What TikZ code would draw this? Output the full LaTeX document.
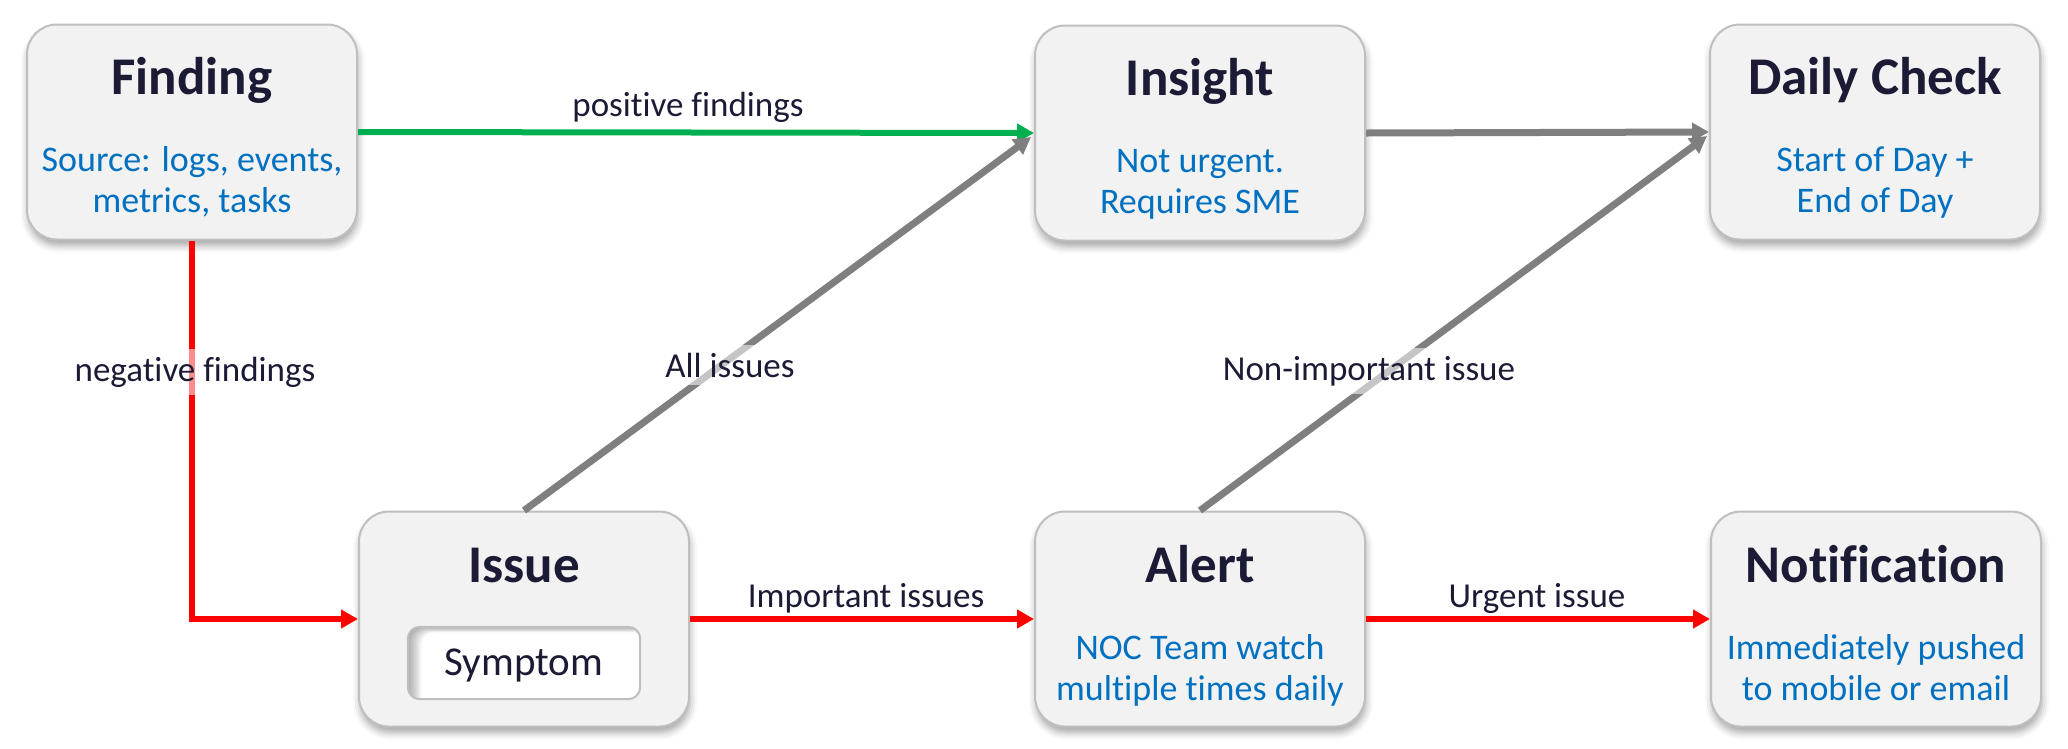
\documentclass[tikz,border=0pt]{standalone}
\usepackage{fontspec}
\setmainfont{Carlito}[Ligatures={NoCommon,NoRare,NoContextual}]
\usetikzlibrary{calc,arrows.meta,shadows.blur}
\definecolor{navy}{HTML}{1B1B36}
\definecolor{sub}{HTML}{0070C0}
\definecolor{boxfill}{HTML}{F2F2F2}
\definecolor{boxline}{HTML}{BFBFBF}
\definecolor{arrgreen}{HTML}{00B050}
\definecolor{arrred}{HTML}{FF0000}
\definecolor{arrgray}{HTML}{7F7F7F}
\tikzset{
  card/.style={rounded corners=30pt, minimum width=330pt, minimum height=215pt,
    fill=boxfill, draw=boxline, line width=2pt, inner sep=0pt,
    blur shadow={shadow xshift=1pt, shadow yshift=-6pt, shadow blur radius=7pt, shadow opacity=35}},
  ttl/.style={anchor=base, text=navy, font=\fontsize{53}{60}\selectfont\bfseries, inner sep=0pt},
  subt/.style={anchor=base, text=sub, font=\fontsize{36}{42}\selectfont, inner sep=0pt},
  lbl/.style={anchor=base, text=navy, font=\fontsize{35}{40}\selectfont, fill=white, fill opacity=0.55, text opacity=1, inner sep=8pt},
  plainlbl/.style={anchor=base, text=navy, font=\fontsize{35}{40}\selectfont, inner sep=0pt},
  tip/.style={-{Triangle[length=17pt,width=18pt]}},
  garr/.style={tip, draw=arrgreen, line width=6pt},
  rarr/.style={tip, draw=arrred, line width=6pt},
  gyarr/.style={tip, draw=arrgray, line width=7pt},
}
\begin{document}
\begin{tikzpicture}[x=1pt,y=-1pt]
\useasboundingbox (0,0) rectangle (2068,748);

% boxes
\node[card] (fin) at (192,132) {};
\node[card] (ins) at (1200,133) {};
\node[card] (dc)  at (1875,132) {};
\node[card] (iss) at (524,619) {};
\node[card] (alr) at (1200,619) {};
\node[card] (noti) at (1876,619) {};

% titles
\node[ttl] (fint) at ($(fin.north)+(0,71)$) {Finding};
\node[ttl] (inst) at ($(ins.north)+(0,71)$) {Insight};
\node[ttl] (dct)  at ($(dc.north)+(0,71)$) {Daily Check};
\node[ttl] (isst) at ($(iss.north)+(0,72)$) {Issue};
\node[ttl] (alrt) at ($(alr.north)+(0,72)$) {Alert};
\node[ttl] (notit) at ($(noti.north)+(0,72)$) {Notification};

% subtitles
\node[subt] (fins1) at ($(fin.north)+(0,148)$) {Source: logs, events,};
\node[subt] (fins2) at ($(fin.north)+(0,189)$) {metrics, tasks};
\node[subt] (inss1) at ($(ins.north)+(0,148)$) {Not urgent.};
\node[subt] (inss2) at ($(ins.north)+(0,189)$) {Requires SME};
\node[subt] (dcs1) at ($(dc.north)+(0,148)$) {Start of Day +};
\node[subt] (dcs2) at ($(dc.north)+(0,189)$) {End of Day};
\node[subt] (alrs1) at ($(alr.north)+(0,149)$) {NOC Team watch};
\node[subt] (alrs2) at ($(alr.north)+(0,190)$) {multiple times daily};
\node[subt] (notis1) at ($(noti.north)+(0,149)$) {Immediately pushed};
\node[subt] (notis2) at ($(noti.north)+(0,190)$) {to mobile or email};

% symptom inset box
\node[rounded corners=12pt, minimum width=232pt, minimum height=72pt, fill=white, inner sep=0pt] (sym) at (524,663) {};
\begin{scope}
  \clip[rounded corners=12pt] (sym.north west) rectangle (sym.south east);
  \foreach \k in {1,...,8}
    \fill[black, opacity=0.045, even odd rule]
      ($(sym.north west)+(-20,-20)$) rectangle ($(sym.south east)+(20,20)$)
      [rounded corners=12pt] ($(sym.north west)+(1.7*\k,0.7*\k)$) rectangle ($(sym.south east)+(30,30)$);
\end{scope}
\draw[rounded corners=12pt, draw=boxline, line width=2pt] (sym.north west) rectangle (sym.south east);
\node[anchor=base, text=navy, font=\fontsize{41}{48}\selectfont, inner sep=0pt] (symt) at (524,675) {Symptom};

% connectors
\coordinate (insin) at ($(ins.west)+(-3,4)$);
\coordinate (dcin) at ($(dc.west)+(-2,4)$);
\draw[garr] (fin.east) -- (ins.west);
\draw[gyarr] (ins.east) -- (dc.west);
\draw[gyarr] (iss.north) -- (insin);
\draw[gyarr] (alr.north) -- (dcin);
\draw[rarr] (fin.south) |- (iss.west);
\draw[rarr] (iss.east) -- (alr.west);
\draw[rarr] (alr.east) -- (noti.west);

% labels
\node[plainlbl] (lpos) at (688,116) {positive findings};
\node[lbl] (lneg) at (195,381) {negative findings};
\node[lbl] (lall) at (730,377) {All issues};
\node[lbl] (lnon) at (1369,380) {Non-important issue};
\node[plainlbl] (limp) at (866,607) {Important issues};
\node[plainlbl] (lurg) at (1537,607) {Urgent issue};
\end{tikzpicture}
\end{document}
